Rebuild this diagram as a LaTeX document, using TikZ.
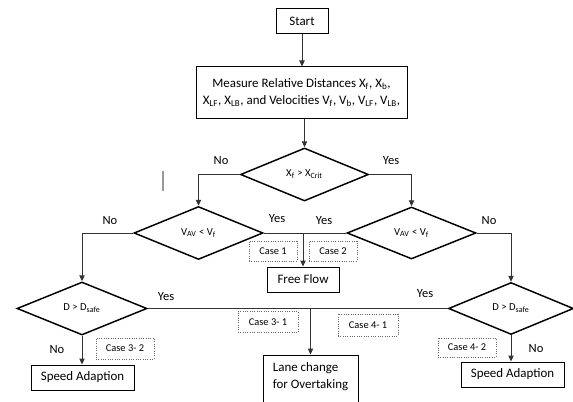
\documentclass[tikz,border=0pt]{standalone}
\usepackage{fontspec}
\setmainfont{Carlito}
\usetikzlibrary{shapes.geometric,arrows.meta}
\begin{document}
\begin{tikzpicture}[x=0.75pt,y=-0.75pt,
  box/.style={draw=black, line width=0.75pt, inner sep=0pt, align=center,
    font=\fontsize{9.7}{12.75}\selectfont},
  dia/.style={draw=black, shape=diamond, line width=1.1pt, inner sep=0pt,
    font=\fontsize{8}{9}\selectfont},
  casebox/.style={draw=black!60, densely dotted, line width=0.75pt, inner sep=0pt,
    font=\fontsize{7.8}{9}\selectfont},
  conn/.style={draw=black!80, line width=0.75pt},
  arr/.style={conn, -{Triangle[length=4.5pt,width=4pt]}},
  lab/.style={font=\fontsize{9.4}{11}\selectfont, inner sep=0pt}
]
\useasboundingbox (0,0) rectangle (573,402);

% boxes
\node[box, minimum width=39pt, minimum height=18.75pt] (start) at (302,21.5) {Start};
\node[box, minimum width=158.25pt, minimum height=39pt] (meas) at (301.5,93)
  {Measure Relative Distances X\textsubscript{f}, X\textsubscript{b},\\
   X\textsubscript{LF}, X\textsubscript{LB}, and Velocities V\textsubscript{f}, V\textsubscript{b}, V\textsubscript{LF}, V\textsubscript{LB},};

% diamonds
\node[dia, minimum width=96pt, minimum height=39.75pt] (d1) at (304.5,174.5) {X\textsubscript{f} > X\textsubscript{Crit}};
\node[dia, minimum width=96.75pt, minimum height=39.75pt] (d2) at (198.5,233) {V\textsubscript{AV} < V\textsubscript{f}};
\node[dia, minimum width=96.75pt, minimum height=39pt] (d3) at (411.5,233) {V\textsubscript{AV} < V\textsubscript{f}};
\node[dia, minimum width=97.5pt, minimum height=39.75pt] (d4) at (82,308.5) {D > D\textsubscript{safe}};
\node[dia, minimum width=93.75pt, minimum height=39pt] (d5) at (511,308.5) {D > D\textsubscript{safe}};

% result boxes
\node[box, minimum width=54pt, minimum height=18.75pt] (ff) at (303,279.5) {Free Flow};
\node[box, minimum width=77.25pt, minimum height=18.75pt] (spl) at (82.5,377.5) {Speed Adaption};
\node[box, minimum width=77.25pt, minimum height=18.75pt] (spr) at (512.5,374.5) {Speed Adaption};
\node[box, minimum width=71.25pt, minimum height=45pt] (lane) at (310.5,385)
  {\begin{tabular}{@{}l@{}}Lane change\\for Overtaking\\\mbox{}\end{tabular}};

% case boxes
\node[casebox, minimum width=36pt, minimum height=15pt] (c1) at (273,251) {Case 1};
\node[casebox, minimum width=36pt, minimum height=15pt] (c2) at (333,251) {Case 2};
\node[casebox, minimum width=45pt, minimum height=15.75pt] (c31) at (268,322) {Case 3- 1};
\node[casebox, minimum width=45pt, minimum height=16.5pt] (c41) at (368,325) {Case 4- 1};
\node[casebox, minimum width=43.5pt, minimum height=15.75pt] (c32) at (125,348.5) {Case 3- 2};
\node[casebox, minimum width=43.5pt, minimum height=14.25pt] (c42) at (467,347.5) {Case 4- 2};

% connectors
\draw[arr] (start.south) -- (meas.north -| start.south);
\draw[arr] (d1.north |- meas.south) -- (d1.north);
\draw[arr] (d1.west) -| (d2.north);
\draw[arr] (d1.east) -| (d3.north);
\draw[conn] (d2.east) -- (d3.west);
\coordinate (bff) at (ff.north |- d2.east);
\draw[arr] (bff) -- (ff.north);
\draw[arr] (d2.west) -| (d4.north);
\draw[arr] (d3.east) -| (d5.north);
\draw[conn] (d4.east) -- (d5.west);
\coordinate (blane) at (lane.north |- d4.east);
\draw[arr] (blane) -- (lane.north);
\draw[arr] (d4.south) -- (spl.north -| d4.south);
\draw[arr] (d5.south) -- (spr.north -| d5.south);

% labels
\node[lab] (n1) at (221,161) {No};
\node[lab] (y1) at (391,161) {Yes};
\node[lab] (n2) at (110,221) {No};
\node[lab] (y2) at (277,219) {Yes};
\node[lab] (y3) at (324,221) {Yes};
\node[lab] (n3) at (489,221) {No};
\node[lab] (y4) at (166,297) {Yes};
\node[lab] (y5) at (425,294) {Yes};
\node[lab] (n4) at (57,350) {No};
\node[lab] (n5) at (536,349) {No};

% stray mark
\coordinate (bar1) at (163,171);
\coordinate (bar2) at (163,191);
\draw[black!40, line width=1.1pt] (bar1) -- (bar2);
\end{tikzpicture}
\end{document}
